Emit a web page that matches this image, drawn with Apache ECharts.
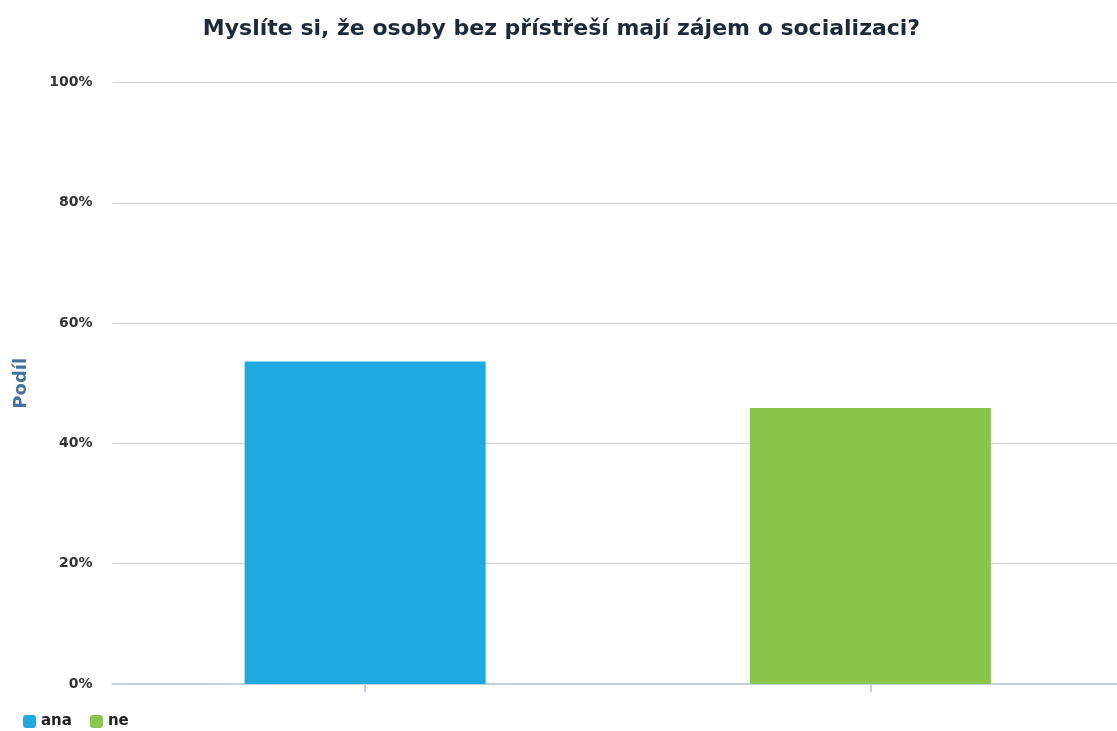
<!DOCTYPE html>
<html>
<head>
<meta charset="utf-8">
<script src="https://cdn.jsdelivr.net/npm/echarts@6/dist/echarts.min.js"></script>
<style>html,body{margin:0;padding:0;background:#fff;overflow:hidden;}#c{width:1123px;height:731px;}</style>
</head>
<body>
<div id="c"></div>
<script>
const categories = ['ana', 'ne'];
const seriesNames = ['ana', 'ne'];
const anaValues = [53.6, null];
const neValues = [null, 45.9];
const yTicks = [0, 20, 40, 60, 80, 100];
const colors = ['#1fa9e1', '#88c54a'];

const chart = echarts.init(document.getElementById('c'), null, {renderer: 'canvas'});
chart.setOption({
  animation: false,
  backgroundColor: '#ffffff',
  title: {
    text: 'Myslíte si, že osoby bez přístřeší mají zájem o socializaci?',
    left: 'center',
    top: 13,
    textStyle: {fontFamily: 'DejaVu Sans', fontWeight: 'bold', fontSize: 22, color: '#1b2a3a'}
  },
  legend: {
    data: seriesNames,
    left: 18,
    top: 709,
    icon: 'roundRect',
    itemWidth: 13,
    itemHeight: 13,
    itemGap: 18,
    textStyle: {fontFamily: 'DejaVu Sans', fontWeight: 'bold', fontSize: 15, color: '#222'}
  },
  grid: {left: 112.5, right: 0, top: 82.5, bottom: 47, containLabel: false},
  xAxis: {
    type: 'category',
    data: categories,
    axisLine: {show: true, lineStyle: {color: '#c0d0e0', width: 2}},
    axisTick: {show: true, alignWithLabel: true, length: 8, lineStyle: {color: '#c0d0e0', width: 2}},
    axisLabel: {show: false}
  },
  yAxis: {
    type: 'value',
    min: yTicks[0],
    max: yTicks[yTicks.length - 1],
    interval: 20,
    name: 'Podíl',
    nameLocation: 'middle',
    nameGap: 82,
    nameRotate: 90,
    nameTextStyle: {fontFamily: 'DejaVu Sans', fontWeight: 'bold', fontSize: 18, color: '#4572a0'},
    axisLabel: {
      formatter: v => v + '%',
      margin: 20,
      fontFamily: 'DejaVu Sans', fontWeight: 'bold', fontSize: 14, color: '#333'
    },
    axisLine: {show: false},
    axisTick: {show: false},
    splitLine: {lineStyle: {color: '#d0d0d0', width: 1}}
  },
  series: [
    {name: seriesNames[0], type: 'bar', stack: 'all', barWidth: '47.7%', data: anaValues, itemStyle: {color: colors[0]}},
    {name: seriesNames[1], type: 'bar', stack: 'all', barWidth: '47.7%', data: neValues, itemStyle: {color: colors[1]}}
  ]
});
</script>
</body>
</html>
